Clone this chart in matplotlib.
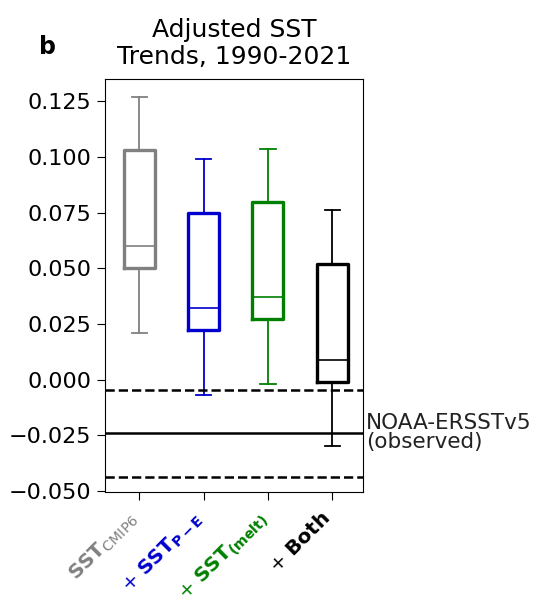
import matplotlib.pyplot as plt
import matplotlib.transforms as mtransforms
import numpy as np

# box statistics (K/yr)
labels = [r"$\mathbf{SST}_{\mathrm{CMIP6}}$",
          r"+ $\mathbf{SST_{P-E}}$",
          r"+ $\mathbf{SST_{(melt)}}$",
          r"+ $\mathbf{Both}$"]
colors = ["grey", "mediumblue", "green", "black"]
whislo = [0.021, -0.0067, -0.0022, -0.030]
q1s = [0.050, 0.0225, 0.027, -0.0013]
medians = [0.060, 0.032, 0.037, 0.009]
q3s = [0.103, 0.075, 0.080, 0.052]
whishi = [0.127, 0.099, 0.1035, 0.076]

obs_trend = -0.0238
obs_low = -0.0436
obs_high = -0.0045

ymin, ymax = -0.0506, 0.135

fig = plt.figure(figsize=(5.42, 6.13), dpi=100)
ax = fig.add_axes([0.194, 0.197, 0.476, 0.674])

stats = []
for i in range(len(labels)):
    stats.append({'whislo': whislo[i], 'q1': q1s[i], 'med': medians[i],
                  'q3': q3s[i], 'whishi': whishi[i], 'fliers': []})

for i, s in enumerate(stats):
    c = colors[i]
    ax.bxp([s], positions=[i + 1], widths=0.48, showfliers=False,
           boxprops=dict(color=c, linewidth=2.4),
           medianprops=dict(color=c, linewidth=1.2),
           whiskerprops=dict(color=c, linewidth=1.3),
           capprops=dict(color=c, linewidth=1.3))

ax.axhline(obs_trend, color='k', linewidth=1.8)
ax.axhline(obs_low, color='k', linewidth=1.8, linestyle='--')
ax.axhline(obs_high, color='k', linewidth=1.8, linestyle='--')

ax.text(1.012, (obs_trend - ymin) / (ymax - ymin), "NOAA-ERSSTv5\n(observed)",
        transform=ax.transAxes, fontsize=15.5, va='center', ha='left',
        color='#222222', linespacing=0.95)

ax.set_xlim(0.47, 4.48)
ax.set_ylim(ymin, ymax)
yt = [-0.05, -0.025, 0, 0.025, 0.05, 0.075, 0.1, 0.125]
ax.set_yticks(yt)
ax.set_yticklabels(['%.3f' % v if v >= 0 else '\u2212%.3f' % -v for v in yt])
ax.tick_params(axis='y', labelsize=16, length=5.5, pad=4.5)
ax.tick_params(axis='x', length=5.5, pad=6)
ax.set_xticks(np.arange(1, 5))
ax.set_xticklabels(labels, rotation=45, ha='right', rotation_mode='anchor',
                   fontsize=14.5)
shift = mtransforms.ScaledTranslation(-0.12, 0, fig.dpi_scale_trans)
for t, c in zip(ax.get_xticklabels(), colors):
    t.set_color(c)
    t.set_transform(t.get_transform() + shift)

ax.set_title("Adjusted SST\nTrends, 1990-2021", fontsize=18, linespacing=1.15,
             pad=11)
fig.text(0.072, 0.912, "b", fontsize=17, fontweight='bold')

fig.savefig("out.png", dpi=100)
